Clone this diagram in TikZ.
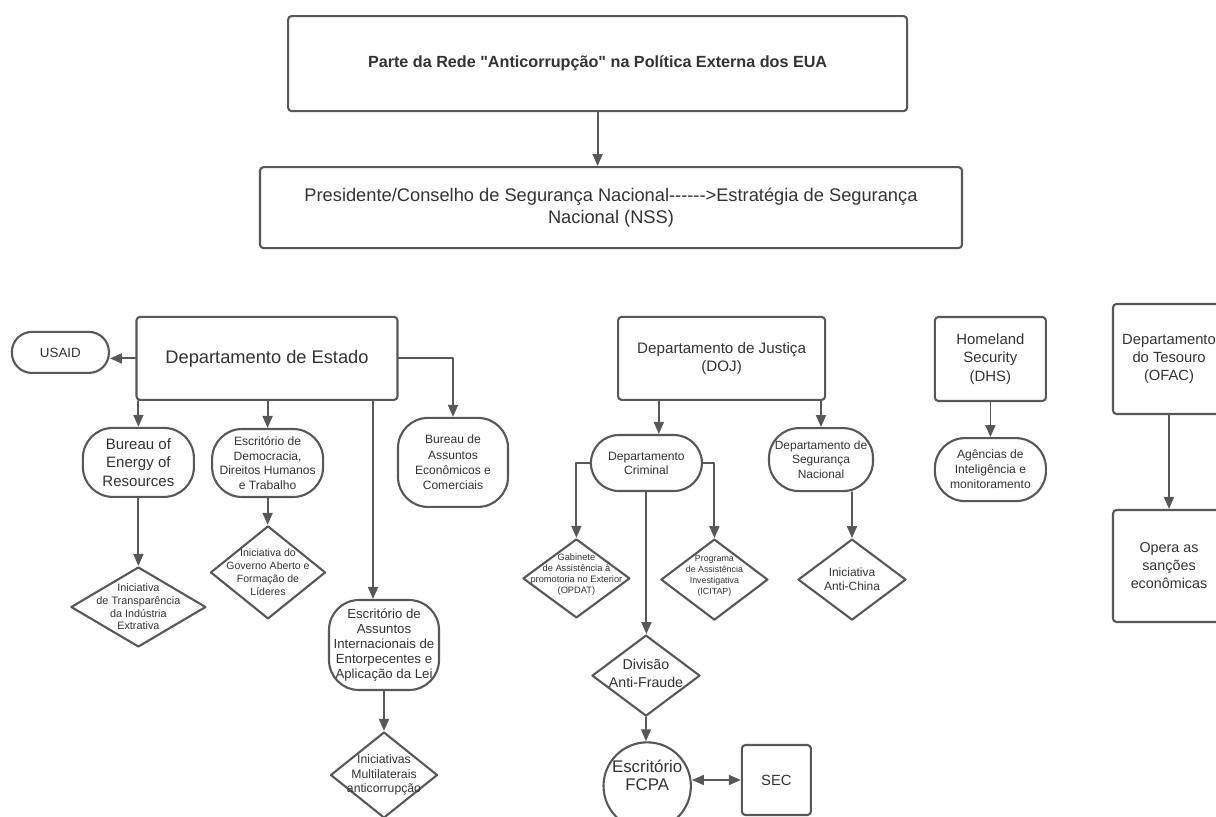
\documentclass[tikz,border=0pt]{standalone}
\usepackage{fontspec}
\setmainfont{Liberation Sans}[Ligatures=TeXOff]
\usetikzlibrary{arrows.meta,shapes.geometric}
\definecolor{RedeLine}{HTML}{585858}
\definecolor{RedeText}{HTML}{333333}
\newcommand{\txtsize}[2]{\fontsize{#1}{#2}\selectfont}

\begin{document}
\begin{tikzpicture}[line cap=round,line join=round,
  >={Triangle[length=3mm,width=2.5mm]},
  box/.style={draw=RedeLine,line width=1.5pt,rounded corners=2.5pt,text=RedeText,align=center,inner sep=0pt},
  term/.style={draw=RedeLine,line width=1.5pt,rounded corners=#1,text=RedeText,align=center,inner sep=0pt},
  term/.default=7.5mm,
  dmd/.style={diamond,draw=RedeLine,line width=1.5pt,inner sep=0pt},
  dtxt/.style={text=RedeText,align=center},
  arr/.style={->,draw=RedeLine,line width=1.3pt}]
  \useasboundingbox (0,0) rectangle (30.4,-20.4);
  \fill[white] (0,0) rectangle (30.4,-20.4);

  % top of the network
  \node[box,minimum width=15.475cm,minimum height=2.375cm,font=\bfseries\txtsize{11.5}{14}] (title) at (14.94,-1.59)
    {Parte da Rede "Anticorrupção" na Política Externa dos EUA};
  \node[box,minimum width=17.55cm,minimum height=2.025cm,font=\txtsize{13}{16}] (nss) at (15.275,-5.19)
    {Presidente/Conselho de Segurança Nacional------>Estratégia de Segurança\\Nacional (NSS)};

  % Departamento de Estado
  \node[box,minimum width=6.525cm,minimum height=2.075cm,font=\txtsize{13}{15.5}] (estado) at (6.675,-8.96) {Departamento de Estado};
  \node[term=5mm,minimum width=2.425cm,minimum height=1.025cm,font=\txtsize{9.5}{11.5}] (usaid) at (1.51,-8.81) {USAID};
  \node[term,minimum width=2.775cm,minimum height=1.725cm,font=\txtsize{10.7}{13.2}] (energy) at (3.46,-11.56)
    {Bureau of\\Energy of\\Resources};
  \node[term,minimum width=2.775cm,minimum height=1.7cm,font=\txtsize{8.6}{10.4}] (democ) at (6.69,-11.575)
    {Escritório de\\Democracia,\\Direitos Humanos\\e Trabalho};
  \node[term,minimum width=2.75cm,minimum height=2.225cm,font=\txtsize{8.6}{10.8}] (econ) at (11.325,-11.56)
    {Bureau de\\Assuntos\\Econômicos e\\Comerciais};
  \node[term,minimum width=2.75cm,minimum height=2.25cm,font=\txtsize{9.4}{10.6}] (assuntos) at (9.6,-16.125)
    {Escritório de\\Assuntos\\Internacionais de\\Entorpecentes e\\Aplicação da Lei};
  \node[dmd,minimum width=3.375cm,minimum height=2cm,
    label={[dtxt,font=\txtsize{7.7}{9}]center:Iniciativa\\de Transparência\\da Indústria\\Extrativa}] (transp) at (3.46,-15.175) {};
  \node[dmd,minimum width=2.875cm,minimum height=2.325cm,
    label={[dtxt,font=\txtsize{7.5}{9.2}]center:Iniciativa do\\Governo Aberto e\\Formação de\\Líderes}] (governo) at (6.7,-14.31) {};
  \node[dmd,minimum width=2.675cm,minimum height=2.15cm,
    label={[dtxt,font=\txtsize{8.7}{10.3}]center:Iniciativas\\Multilaterais\\anticorrupção}] (multi) at (9.6,-19.375) {};

  % Departamento de Justica
  \node[box,minimum width=5.175cm,minimum height=2.075cm,font=\txtsize{10.8}{13.2}] (doj) at (18.04,-8.96)
    {Departamento de Justiça\\(DOJ)};
  \node[term=7mm,minimum width=2.775cm,minimum height=1.4cm,font=\txtsize{8.6}{10}] (criminal) at (16.16,-11.575)
    {Departamento\\Criminal};
  \node[term,minimum width=2.6cm,minimum height=1.575cm,font=\txtsize{8.5}{10.3}] (segnac) at (20.525,-11.49)
    {Departamento de\\Segurança\\Nacional};
  \node[dmd,minimum width=2.675cm,minimum height=1.975cm,
    label={[dtxt,yshift=1mm,font=\txtsize{6.6}{7.8}]center:Gabinete\\de Assistência à\\promotoria no Exterior\\(OPDAT)}] (gabinete) at (14.41,-14.46) {};
  \node[dmd,minimum width=2.675cm,minimum height=2.025cm,
    label={[dtxt,yshift=1mm,font=\txtsize{6.3}{7.8}]center:Programa\\de Assistência\\Investigativa\\(ICITAP)}] (programa) at (17.86,-14.49) {};
  \node[dmd,minimum width=2.7cm,minimum height=2.025cm,
    label={[dtxt,font=\txtsize{8.5}{10}]center:Iniciativa\\Anti-China}] (antichina) at (21.3,-14.49) {};
  \node[dmd,minimum width=2.7cm,minimum height=2.025cm,
    label={[dtxt,yshift=0.5mm,font=\txtsize{10.1}{12.6}]center:Divisão\\Anti-Fraude}] (divisao) at (16.15,-16.89) {};
  \node[circle,draw=RedeLine,line width=1.5pt,minimum size=2.175cm,inner sep=0pt,text=RedeText,align=center,
    font=\txtsize{12}{13}] (fcpa) at (16.18,-19.65) {Escritório\\FCPA\\[2pt]};
  \node[box,minimum width=1.725cm,minimum height=1.75cm,font=\txtsize{10.5}{12}] (sec) at (19.41,-19.5) {SEC};

  % Homeland e Tesouro
  \node[box,minimum width=2.775cm,minimum height=2.1cm,font=\txtsize{10.6}{13.2}] (dhs) at (24.76,-8.975)
    {Homeland\\Security\\(DHS)};
  \node[term,minimum width=2.775cm,minimum height=1.575cm,font=\txtsize{8.6}{10.7}] (agencias) at (24.76,-11.74)
    {Agências de\\Inteligência e\\monitoramento};
  \node[box,minimum width=2.8cm,minimum height=2.75cm,font=\txtsize{10.5}{12.8}] (tesouro) at (29.225,-8.975)
    {Departamento\\do Tesouro\\(OFAC)};
  \node[box,minimum width=2.8cm,minimum height=2.8cm,font=\txtsize{10.2}{12.8}] (opera) at (29.225,-14.15)
    {Opera as\\sanções\\econômicas};

  % connectors
  \coordinate (assin) at ([xshift=-2.75mm]assuntos.north);
  \coordinate (crimin) at ([xshift=3.1mm]criminal.north);
  \draw[arr] (title.south) -- (title.south |- nss.north);
  \draw[arr] (estado.west) -- (estado.west -| usaid.east);
  \draw[arr] (estado.east) -| (econ.north);
  \draw[arr] (estado.south -| energy.north) -- (energy.north);
  \draw[arr] (estado.south -| democ.north) -- (democ.north);
  \draw[arr] (estado.south -| assin) -- (assin);
  \draw[arr] (energy.south) -- (transp.north);
  \draw[arr] (democ.south) -- (democ.south |- governo.north);
  \draw[arr] (assuntos.south) -- (multi.north);
  \draw[arr] (doj.south -| crimin) -- (crimin);
  \draw[arr] (doj.south -| segnac.north) -- (segnac.north);
  \draw[arr] (criminal.west) -| (gabinete.north);
  \draw[arr] (criminal.east) -| (programa.north);
  \draw[arr] (criminal.south) -- (criminal.south |- divisao.north);
  \draw[arr] (segnac.south -| antichina.north) -- (antichina.north);
  \draw[arr] (divisao.south) -- (divisao.south |- fcpa.north);
  \draw[arr,<->] (sec.west -| fcpa.east) -- (sec.west);
  \draw[arr] (dhs.south) -- (agencias.north);
  \draw[arr] (tesouro.south) -- (opera.north);
\end{tikzpicture}
\end{document}
